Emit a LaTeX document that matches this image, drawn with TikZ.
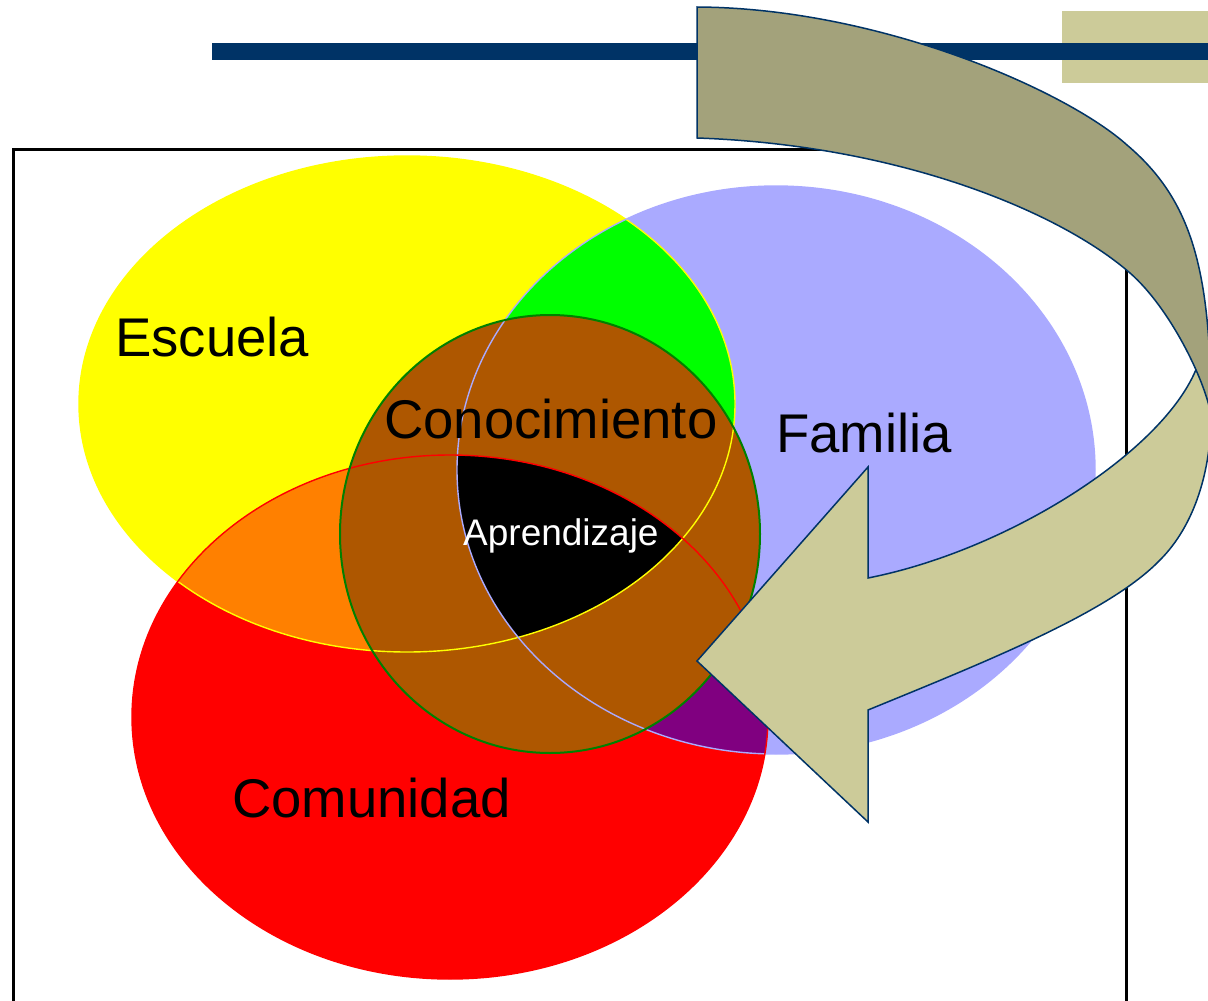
\documentclass[tikz,border=0pt]{standalone}
\usepackage{fontspec}
\setmainfont{Liberation Sans}
\definecolor{yel}{RGB}{255,255,0}
\definecolor{lav}{RGB}{170,170,255}
\definecolor{brownc}{RGB}{174,87,0}
\definecolor{purp}{RGB}{128,0,128}
\definecolor{orng}{RGB}{255,128,0}
\definecolor{grn}{RGB}{0,255,0}
\definecolor{dkgrn}{RGB}{0,128,0}
\definecolor{navyc}{RGB}{0,51,102}
\definecolor{tanc}{RGB}{204,203,153}
\definecolor{olivec}{RGB}{163,162,123}
\def\Ypath{(407,404) ellipse [x radius=328pt, y radius=248pt]}
\def\Lpath{(776,470) ellipse [x radius=319pt, y radius=284pt]}
\def\Rpath{(450,717) ellipse [x radius=318pt, y radius=262pt]}
\def\Bpath{(550,534) ellipse [x radius=210pt, y radius=219pt]}
\begin{document}
\begin{tikzpicture}[x=1pt,y=-1pt,
  bigtext/.style={inner sep=0pt, anchor=base west, font=\fontsize{54.5}{60}\selectfont},
  smalltext/.style={inner sep=0pt, anchor=base west, text=white, font=\fontsize{37}{42}\selectfont},
  outl/.style={line width=1.4pt},
  arrowpart/.style={draw=navyc, line width=1.5pt, line join=miter}]
\useasboundingbox (0,0) rectangle (1208,1001);
\clip (0,0) rectangle (1208,1001);
% top decoration
\fill[tanc] (1062,11) rectangle (1212,83);
\fill[navyc] (212,43) rectangle (1212,60);
% frame
\draw[line width=3pt] (13,1010) -- (13,149) -- (1126,149) -- (1126,1010);
% Venn fills
\fill[yel] \Ypath;
\fill[lav] \Lpath;
\fill[red] \Rpath;
\begin{scope}
  \clip \Ypath;
  \fill[grn] \Lpath;
  \fill[orng] \Rpath;
\end{scope}
\begin{scope}
  \clip \Rpath;
  \fill[purp] \Lpath;
\end{scope}
\fill[brownc] \Bpath;
\begin{scope}
  \clip \Ypath;
  \clip \Lpath;
  \fill[black] \Rpath;
\end{scope}
% outlines
\draw[outl, yel] \Ypath;
\draw[outl, lav] \Lpath;
\draw[outl, red] \Rpath;
\draw[line width=2pt, dkgrn] \Bpath;
% labels
\node[bigtext] (escuela) at (115,356) {Escuela};
\node[bigtext] (familia) at (776,452) {Familia};
\node[bigtext] (comunidad) at (232,817) {Comunidad};
\node[bigtext] (conoc) at (384,438) {Conocimiento};
\node[smalltext] (aprend) at (463,545) {Aprendizaje};
% curved arrow: front part
\path[arrowpart, fill=tanc] (868,578) -- (868,467) -- (697,661) -- (868,822) -- (868,710)
  .. controls (990,660) and (1110,612) .. (1160,560)
  .. controls (1195,525) and (1211,470) .. (1211,415)
  -- (1209,385) -- (1197,367)
  .. controls (1165,450) and (1010,550) .. (868,578) -- cycle;
% curved arrow: back part
\path[arrowpart, fill=olivec] (697,7) -- (697,138)
  .. controls (900,145) and (1060,212) .. (1130,273)
  .. controls (1170,308) and (1205,380) .. (1211,415)
  .. controls (1211,270) and (1192,200) .. (1127,145)
  .. controls (1067,91) and (880,8) .. (697,7) -- cycle;
\end{tikzpicture}
\end{document}
